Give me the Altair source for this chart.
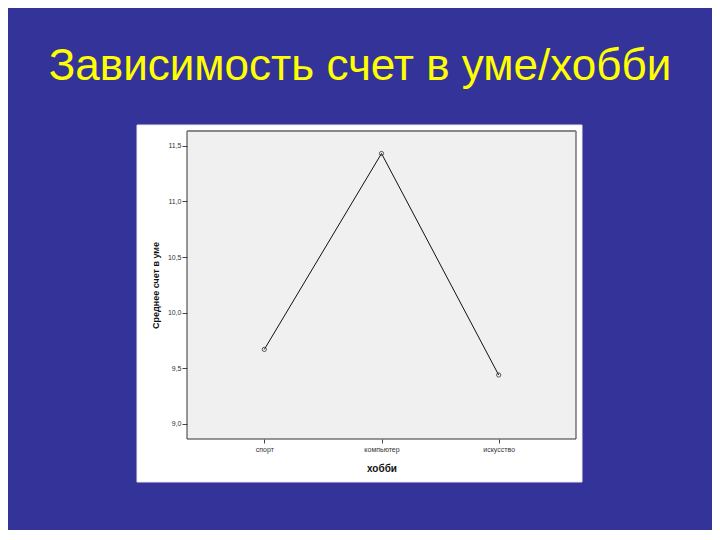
import altair as alt
import pandas as pd

categories = ["спорт", "компьютер", "искусство"]
means = [9.67, 11.43, 9.44]
y_ticks = [9.0, 9.5, 10.0, 10.5, 11.0, 11.5]

df = pd.DataFrame({"hobby": categories, "mean": means})

W, H = 389, 308
BG = "#333399"

x_scale = alt.Scale(type="point", domain=categories, padding=0.66)
y_scale = alt.Scale(domain=[8.865, 11.632], nice=False, zero=False)

x_enc = alt.X(
    "hobby:N", scale=x_scale, sort=categories,
    axis=alt.Axis(title="хобби", labelAngle=0, domain=False, tickSize=4,
                  tickColor="#444444", labelPadding=2, labelFontSize=7,
                  labelColor="#333333", titleFontSize=10, titleFontWeight="bold",
                  titleColor="#111111", titleX=W / 2, titleY=29,
                  titleBaseline="middle", zindex=1, grid=False),
)
y_enc = alt.Y(
    "mean:Q", scale=y_scale,
    axis=alt.Axis(title="Среднее счет в уме", values=y_ticks, domain=False,
                  tickSize=5, tickColor="#444444", labelPadding=1,
                  labelFontSize=7, labelColor="#333333",
                  labelExpr="replace(format(datum.value, '.1f'), '.', ',')",
                  titleFontSize=9, titleFontWeight="bold", titleColor="#111111",
                  titleX=-32, titleY=H / 2, titleAngle=270,
                  titleBaseline="middle", zindex=1, grid=False),
)

one = alt.Data(values=[{"k": 1}])

panel = alt.Chart(one).mark_rect(fill="white", stroke="#e8e8f4", strokeWidth=1).encode(
    x=alt.value(-50), x2=alt.value(395), y=alt.value(-6), y2=alt.value(351)
)
plot_bg = alt.Chart(one).mark_rect(fill="#f0f0f0", stroke="#333333", strokeWidth=1).encode(
    x=alt.value(0), x2=alt.value(W), y=alt.value(0), y2=alt.value(H)
)
top_edge = alt.Chart(one).mark_rule(color="#888888", strokeWidth=2).encode(
    x=alt.value(0), x2=alt.value(W), y=alt.value(0)
)

line = alt.Chart(df).mark_line(color="#111111", strokeWidth=1).encode(x=x_enc, y=y_enc)
pts = alt.Chart(df).mark_point(shape="circle", size=18, filled=False,
                               color="#333333", strokeWidth=0.8, opacity=1).encode(x=x_enc, y=y_enc)

chart = alt.layer(panel, plot_bg, top_edge, line, pts).properties(
    width=W, height=H,
    background=BG,
    padding={"left": 179, "top": 123, "right": 136, "bottom": 91},
    autosize=alt.AutoSizeParams(type="none"),
    title=alt.TitleParams(
        text="Зависимость счет в уме/хобби", fontSize=44, font="Liberation Sans",
        fontWeight="normal", color="#ffff00", anchor="middle", frame="group",
        dx=-21.5, offset=1, baseline="alphabetic",
    ),
).configure_view(stroke=None).configure_axis(
    labelFont="Liberation Sans", titleFont="Liberation Sans"
)

chart.save("out.html", embed_options={"renderer": "svg", "actions": False})
